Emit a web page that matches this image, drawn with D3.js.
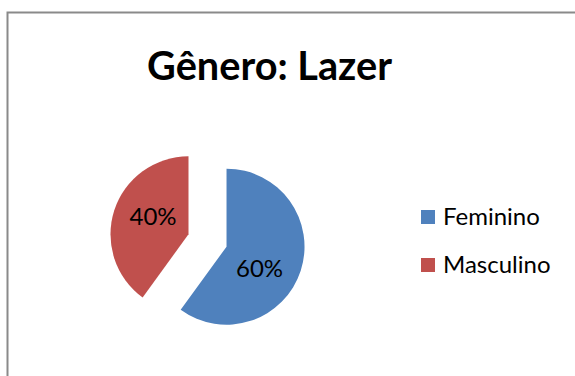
<!DOCTYPE html>
<html>
<head>
<meta charset="utf-8">
<script src="https://cdn.jsdelivr.net/npm/d3@7"></script>
<style>
  html, body { margin: 0; padding: 0; background: #fff; }
  svg { display: block; }
</style>
</head>
<body>
<svg id="chart" width="575" height="376"></svg>
<script>
// Gênero: Lazer — share of respondents by gender
const title = "Gênero: Lazer";
const categories = ["Feminino", "Masculino"];
const values = [60, 40];
const colors = ["#4F81BD", "#C0504D"];

const svg = d3.select("#chart");
const font = "Lato, 'Open Sans', sans-serif";

// chart frame (runs off the right and bottom edges)
svg.append("rect")
  .attr("x", 7.5).attr("y", 12.5)
  .attr("width", 600).attr("height", 400)
  .attr("fill", "#fff")
  .attr("stroke", "#8a8a8a")
  .attr("stroke-width", 2);

// title
const t = svg.append("text")
  .attr("x", 269.5).attr("y", 80)
  .attr("text-anchor", "middle")
  .attr("font-family", font)
  .attr("font-weight", "bold")
  .attr("font-size", 42)
  .attr("fill", "#000")
  .text(title);
const tw = t.node().getComputedTextLength();
t.attr("font-size", 42 * 245 / tw);

// pie
const cx = 207.5, cy = 240.5, r = 78, explode = 20;
const pie = d3.pie().sort(null).value(d => d.value);
const arcs = pie(categories.map((c, i) => ({ cat: c, value: values[i], color: colors[i] })));
const arc = d3.arc().innerRadius(0).outerRadius(r);
const total = d3.sum(values);

const g = svg.append("g").attr("transform", `translate(${cx},${cy})`);
const slice = g.selectAll("g.slice").data(arcs).join("g")
  .attr("class", "slice")
  .attr("transform", d => {
    const mid = (d.startAngle + d.endAngle) / 2;
    return `translate(${explode * Math.sin(mid)},${-explode * Math.cos(mid)})`;
  });
slice.append("path")
  .attr("d", arc)
  .attr("fill", d => d.data.color);

// percentage labels
const labelPos = [[259.5, 277], [153, 225]];
slice.append("text")
  .attr("text-anchor", "middle")
  .attr("font-family", font)
  .attr("font-size", 24)
  .attr("fill", "#000")
  .attr("x", (d, i) => labelPos[i][0] - cx - explode * Math.sin((d.startAngle + d.endAngle) / 2))
  .attr("y", (d, i) => labelPos[i][1] - cy + explode * Math.cos((d.startAngle + d.endAngle) / 2))
  .text(d => Math.round(d.data.value / total * 100) + "%");

// legend
const legend = svg.append("g").attr("transform", "translate(421,210)");
const item = legend.selectAll("g").data(categories).join("g")
  .attr("transform", (d, i) => `translate(0,${i * 48})`);
item.append("rect")
  .attr("width", 14).attr("height", 14)
  .attr("fill", (d, i) => colors[i]);
item.append("text")
  .attr("x", 22).attr("y", 15)
  .attr("font-family", font)
  .attr("font-size", 24)
  .attr("fill", "#000")
  .text(d => d);
</script>
</body>
</html>
